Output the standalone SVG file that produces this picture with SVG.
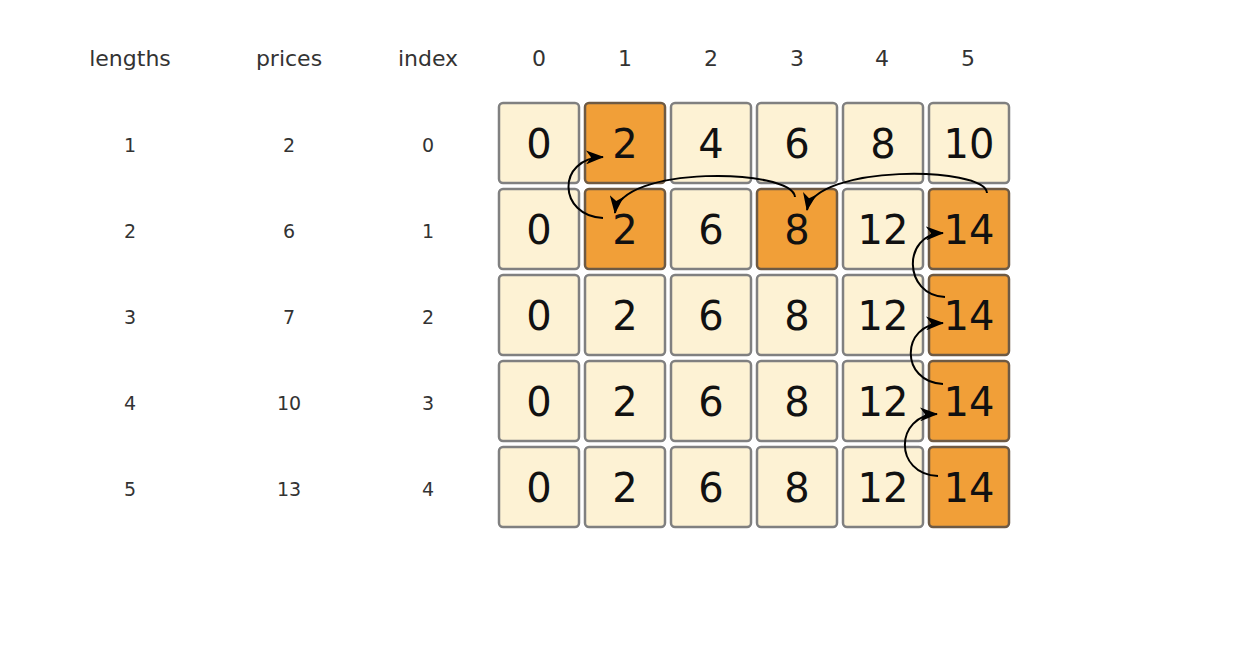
<svg xmlns="http://www.w3.org/2000/svg" width="1244" height="654" viewBox="0 0 1244 654">
<defs>
<style>
.lbl{font-family:"DejaVu Sans",Verdana,sans-serif;font-size:22px;fill:#333;text-anchor:middle}
.num{font-family:"DejaVu Sans",Verdana,sans-serif;font-size:19px;fill:#333;text-anchor:middle}
.cell rect{fill:#FDF2D4;stroke:#808080;stroke-width:2.5}
.cell.hi rect{fill:#F19F38;stroke:#6e5a44}
.cell text{font-family:"DejaVu Sans",Verdana,sans-serif;font-size:40px;fill:#111;text-anchor:middle}
.arc{fill:none;stroke:#000;stroke-width:2;marker-end:url(#ah)}
</style>
<marker id="ah" viewBox="0 0 18 14" refX="17" refY="7" markerWidth="18" markerHeight="14" markerUnits="userSpaceOnUse" orient="auto">
<path d="M0,0 L18,7 L0,14 L5,7 z" fill="#000"/>
</marker>
</defs>
<rect width="1244" height="654" fill="#fff"/>
<g id="headers">
<text class="lbl" x="130" y="66">lengths</text>
<text class="lbl" x="289" y="66">prices</text>
<text class="lbl" x="428" y="66">index</text>
<text class="lbl" x="539" y="66">0</text>
<text class="lbl" x="625" y="66">1</text>
<text class="lbl" x="711" y="66">2</text>
<text class="lbl" x="797" y="66">3</text>
<text class="lbl" x="882" y="66">4</text>
<text class="lbl" x="968" y="66">5</text>
</g>
<g id="rowlabels">
<text class="num" x="130" y="152">1</text><text class="num" x="289" y="152">2</text><text class="num" x="428" y="152">0</text>
<text class="num" x="130" y="238">2</text><text class="num" x="289" y="238">6</text><text class="num" x="428" y="238">1</text>
<text class="num" x="130" y="324">3</text><text class="num" x="289" y="324">7</text><text class="num" x="428" y="324">2</text>
<text class="num" x="130" y="410">4</text><text class="num" x="289" y="410">10</text><text class="num" x="428" y="410">3</text>
<text class="num" x="130" y="496">5</text><text class="num" x="289" y="496">13</text><text class="num" x="428" y="496">4</text>
</g>
<g id="r0c0" class="cell"><rect x="499" y="103" width="80" height="80" rx="4"/><text x="539" y="158">0</text></g>
<g id="r0c1" class="cell hi"><rect x="585" y="103" width="80" height="80" rx="4"/><text x="625" y="158">2</text></g>
<g id="r0c2" class="cell"><rect x="671" y="103" width="80" height="80" rx="4"/><text x="711" y="158">4</text></g>
<g id="r0c3" class="cell"><rect x="757" y="103" width="80" height="80" rx="4"/><text x="797" y="158">6</text></g>
<g id="r0c4" class="cell"><rect x="843" y="103" width="80" height="80" rx="4"/><text x="883" y="158">8</text></g>
<g id="r0c5" class="cell"><rect x="929" y="103" width="80" height="80" rx="4"/><text x="969" y="158">10</text></g>

<g id="r1c0" class="cell"><rect x="499" y="189" width="80" height="80" rx="4"/><text x="539" y="244">0</text></g>
<g id="r1c1" class="cell hi"><rect x="585" y="189" width="80" height="80" rx="4"/><text x="625" y="244">2</text></g>
<g id="r1c2" class="cell"><rect x="671" y="189" width="80" height="80" rx="4"/><text x="711" y="244">6</text></g>
<g id="r1c3" class="cell hi"><rect x="757" y="189" width="80" height="80" rx="4"/><text x="797" y="244">8</text></g>
<g id="r1c4" class="cell"><rect x="843" y="189" width="80" height="80" rx="4"/><text x="883" y="244">12</text></g>
<g id="r1c5" class="cell hi"><rect x="929" y="189" width="80" height="80" rx="4"/><text x="969" y="244">14</text></g>

<g id="r2c0" class="cell"><rect x="499" y="275" width="80" height="80" rx="4"/><text x="539" y="330">0</text></g>
<g id="r2c1" class="cell"><rect x="585" y="275" width="80" height="80" rx="4"/><text x="625" y="330">2</text></g>
<g id="r2c2" class="cell"><rect x="671" y="275" width="80" height="80" rx="4"/><text x="711" y="330">6</text></g>
<g id="r2c3" class="cell"><rect x="757" y="275" width="80" height="80" rx="4"/><text x="797" y="330">8</text></g>
<g id="r2c4" class="cell"><rect x="843" y="275" width="80" height="80" rx="4"/><text x="883" y="330">12</text></g>
<g id="r2c5" class="cell hi"><rect x="929" y="275" width="80" height="80" rx="4"/><text x="969" y="330">14</text></g>

<g id="r3c0" class="cell"><rect x="499" y="361" width="80" height="80" rx="4"/><text x="539" y="416">0</text></g>
<g id="r3c1" class="cell"><rect x="585" y="361" width="80" height="80" rx="4"/><text x="625" y="416">2</text></g>
<g id="r3c2" class="cell"><rect x="671" y="361" width="80" height="80" rx="4"/><text x="711" y="416">6</text></g>
<g id="r3c3" class="cell"><rect x="757" y="361" width="80" height="80" rx="4"/><text x="797" y="416">8</text></g>
<g id="r3c4" class="cell"><rect x="843" y="361" width="80" height="80" rx="4"/><text x="883" y="416">12</text></g>
<g id="r3c5" class="cell hi"><rect x="929" y="361" width="80" height="80" rx="4"/><text x="969" y="416">14</text></g>

<g id="r4c0" class="cell"><rect x="499" y="447" width="80" height="80" rx="4"/><text x="539" y="502">0</text></g>
<g id="r4c1" class="cell"><rect x="585" y="447" width="80" height="80" rx="4"/><text x="625" y="502">2</text></g>
<g id="r4c2" class="cell"><rect x="671" y="447" width="80" height="80" rx="4"/><text x="711" y="502">6</text></g>
<g id="r4c3" class="cell"><rect x="757" y="447" width="80" height="80" rx="4"/><text x="797" y="502">8</text></g>
<g id="r4c4" class="cell"><rect x="843" y="447" width="80" height="80" rx="4"/><text x="883" y="502">12</text></g>
<g id="r4c5" class="cell hi"><rect x="929" y="447" width="80" height="80" rx="4"/><text x="969" y="502">14</text></g>

<g id="connectors">
<path class="arc" d="M603,218 C558,216 556,158 603,157"/>
<path class="arc" d="M795,197 C792,168 620,165 615,213"/>
<path class="arc" d="M987,193 C985,166 815,164 807,210"/>
<path class="arc" d="M945,297 C903,295 902,234 943,233"/>
<path class="arc" d="M943,384 C900,382 900,324 943,323"/>
<path class="arc" d="M938,476 C893,474 895,415 937,414"/>
</g>
</svg>
